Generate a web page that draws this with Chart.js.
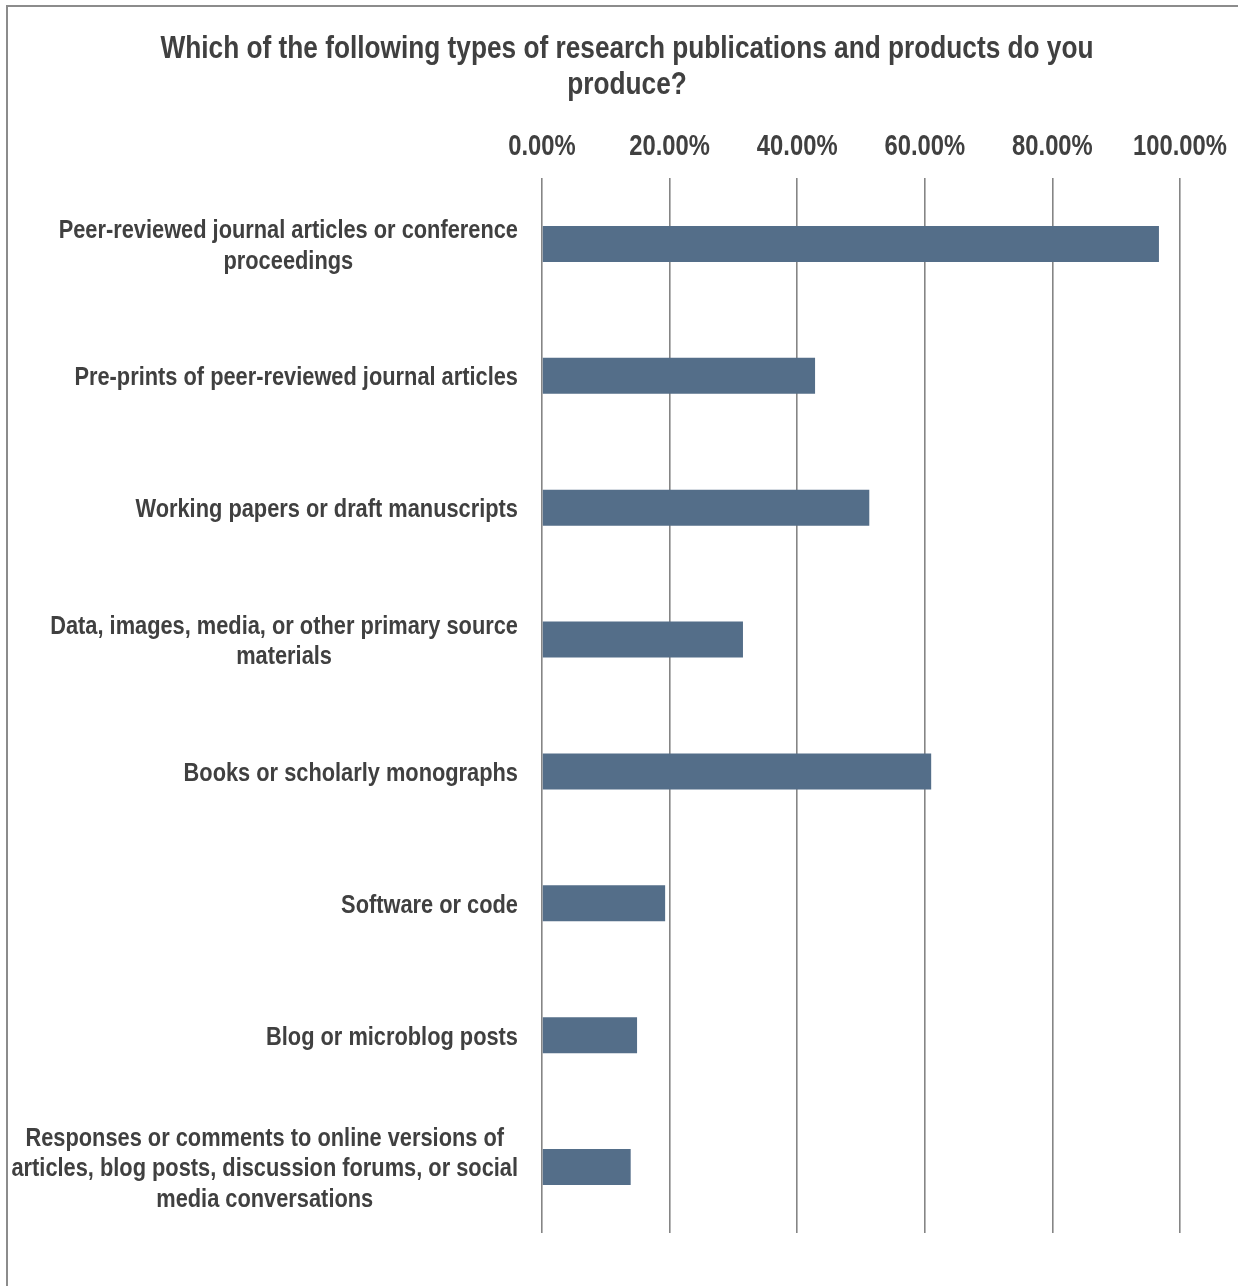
<!DOCTYPE html>
<html>
<head>
<meta charset="utf-8">
<script src="https://cdn.jsdelivr.net/npm/chart.js@4/dist/chart.umd.min.js"></script>
<style>
    html, body { margin: 0; padding: 0; background: #fff; overflow: hidden; }
    #frame {
        position: absolute; left: 6px; top: 5px; width: 1400px; height: 1400px;
        border-left: 2px solid #8c8c8c; border-top: 2px solid #8c8c8c;
    }
    #wrap { position: absolute; left: 0; top: 0; width: 1238px; height: 1286px; }
</style>
</head>
<body>
<div id="frame"></div>
<div id="wrap"><canvas id="pubChart" width="1238" height="1286"></canvas></div>
<script>
// Kategorien (mehrzeilig wie im Original)
const categories = [
    ["Peer-reviewed journal articles or conference", "proceedings"],
    ["Pre-prints of peer-reviewed journal articles"],
    ["Working papers or draft manuscripts"],
    ["Data, images, media, or other primary source", "materials"],
    ["Books or scholarly monographs"],
    ["Software or code"],
    ["Blog or microblog posts"],
    ["Responses or comments to online versions of", "articles, blog posts, discussion forums, or social", "media conversations"]
];
// Anteil der Befragten in %
const shares = [96.7, 42.8, 51.3, 31.5, 61.0, 19.3, 14.9, 13.9];
const tickValues = [0, 20, 40, 60, 80, 100];
const titleLines = [
    "Which of the following types of research publications and products do you",
    "produce?"
];

const FONT = "'Liberation Sans', Arial, sans-serif";
const TEXT = "#404040";
const NARROW = 0.82; // Arial Narrow ~ Arial, horizontal 82 %

function narrowText(ctx, txt, x, y, align) {
    ctx.save();
    ctx.translate(x, y);
    ctx.scale(NARROW, 1);
    ctx.textAlign = align;
    ctx.fillText(txt, 0, 0);
    ctx.restore();
}

// Titel, Achsenbeschriftungen (schmal wie Arial Narrow)
const textPlugin = {
    id: "narrowTexts",
    afterDraw(chart) {
        const ctx = chart.ctx;
        const xs = chart.scales.x;
        const ys = chart.scales.y;
        const area = chart.chartArea;
        ctx.save();
        ctx.fillStyle = TEXT;
        ctx.textBaseline = "middle";

        // Titel
        ctx.font = "bold 32px " + FONT;
        titleLines.forEach(function (l, k) { narrowText(ctx, l, 627, 49 + k * 36, "center"); });

        // x-Ticks oben
        ctx.font = "bold 29px " + FONT;
        tickValues.forEach(function (v) {
            narrowText(ctx, v.toFixed(2) + "%", xs.getPixelForValue(v), area.top - 31, "center");
        });

        // Kategorien: Block rechtsbündig, Zeilen zentriert
        ctx.font = "bold 26.6px " + FONT;
        const right = area.left - 24;
        const lh = 30.5;
        categories.forEach(function (lines, i) {
            const cy = ys.getPixelForValue(i) + 2;
            const widest = Math.max.apply(null, lines.map(function (l) { return ctx.measureText(l).width; })) * NARROW;
            const cx = right - widest / 2;
            const top = cy - (lines.length - 1) * lh / 2;
            lines.forEach(function (l, k) { narrowText(ctx, l, cx, top + k * lh, "center"); });
        });
        ctx.restore();
    }
};

new Chart(document.getElementById("pubChart"), {
    type: "bar",
    data: {
        labels: categories.map(function (c) { return c.join(" "); }),
        datasets: [{
            data: shares,
            backgroundColor: "#546e89",
            categoryPercentage: 1,
            barPercentage: 0.273
        }]
    },
    options: {
        indexAxis: "y",
        responsive: false,
        animation: false,
        layout: { padding: { left: 0, right: 58, top: 178, bottom: 53 } },
        plugins: {
            legend: { display: false },
            tooltip: { enabled: false },
            title: { display: false }
        },
        scales: {
            x: {
                position: "top",
                min: 0,
                max: 100,
                afterBuildTicks: function (s) { s.ticks = tickValues.map(function (v) { return { value: v }; }); },
                afterFit: function (s) { s.height = 0; },
                border: { display: false },
                grid: { color: "#858585", lineWidth: 1.6, drawTicks: false },
                ticks: { display: false }
            },
            y: {
                afterFit: function (s) { s.width = 542; },
                border: { display: false },
                grid: { display: false },
                ticks: { display: false }
            }
        }
    },
    plugins: [textPlugin]
});
</script>
</body>
</html>
